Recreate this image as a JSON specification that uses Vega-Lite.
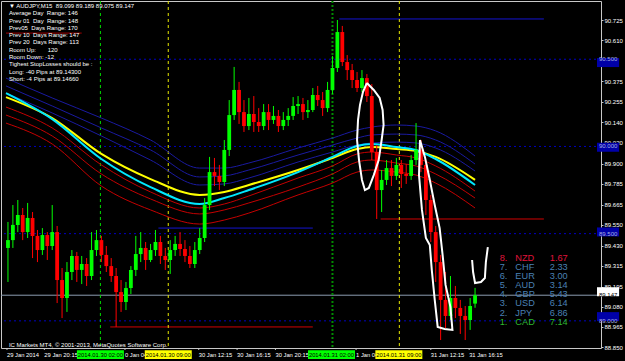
{
  "$schema": "https://vega.github.io/schema/vega-lite/v6.json",
  "width": 600,
  "height": 347,
  "autosize": {"type": "none"},
  "padding": {"left": 1, "top": 1, "right": 24, "bottom": 13},
  "background": "#000000",
  "config": {"view": {"stroke": "#c8c8c8", "strokeWidth": 1}, "font": "Liberation Sans", "text": {"font": "Liberation Sans"}},
  "resolve": {"scale": {"y": "independent"}},
  "layer": [
    {
      "data": {"name": "candles"},
      "mark": {"type": "rule", "strokeWidth": 1, "opacity": 0},
      "encoding": {
        "x": {"field": "k", "type": "quantitative", "scale": {"domain": [-0.4, 119.6], "nice": false, "zero": false}, "axis": null},
        "y": {"field": "l", "type": "quantitative", "scale": {"domain": [88.8443, 90.834], "nice": false, "zero": false},
          "axis": {"orient": "right", "values": [90.725, 90.61, 90.375, 90.255, 90.14, 90.02, 89.9, 89.785, 89.665, 89.55, 89.43, 89.315, 89.195, 89.08, 88.965, 88.85],
            "format": ".3f", "title": null, "grid": false, "domain": false, "ticks": true, "tickSize": 2, "tickColor": "#c8c8c8", "labelColor": "#ffffff", "labelFontSize": 6, "labelFont": "Liberation Sans", "labelPadding": 1, "labelFlush": false, "labelOverlap": false, "labelBaseline": "middle", "labelAlign": "left"}},
        "y2": {"field": "h"}
      }
    },
    {
      "data": {"values": [{"p": 90.5}, {"p": 90.0}, {"p": 89.5}, {"p": 89.0}]},
      "mark": {"type": "rule", "color": "#0000c0", "strokeWidth": 1, "strokeDash": [2, 3]},
      "encoding": {"y": {"field": "p", "type": "quantitative", "scale": {"domain": [88.8443, 90.834], "nice": false, "zero": false}, "axis": null}}
    },
    {
      "data": {"values": [{"p": 89.147}]},
      "mark": {"type": "rule", "color": "#8c9cb0", "strokeWidth": 1},
      "encoding": {"y": {"field": "p", "type": "quantitative", "scale": {"domain": [88.8443, 90.834], "nice": false, "zero": false}, "axis": null}}
    },
    {
      "data": {"values": [
        {"k1": 30.6, "k2": 62, "p": 89.532, "s": "hi"},
        {"k1": 20.8, "k2": 62, "p": 88.965, "s": "lo"},
        {"k1": 67.4, "k2": 109, "p": 90.731, "s": "hi"},
        {"k1": 75.8, "k2": 109, "p": 89.584, "s": "lo"},
        {"k1": -0.4, "k2": 15, "p": 90.65, "s": "mark"}
      ]},
      "mark": {"type": "rule", "strokeWidth": 1},
      "encoding": {
        "x": {"field": "k1", "type": "quantitative", "scale": {"domain": [-0.4, 119.6], "nice": false, "zero": false}, "axis": null},
        "x2": {"field": "k2"},
        "y": {"field": "p", "type": "quantitative", "scale": {"domain": [88.8443, 90.834], "nice": false, "zero": false}, "axis": null},
        "color": {"condition": [{"test": "datum.s == 'hi'", "value": "#1414d0"}, {"test": "datum.s == 'mark'", "value": "#a00000"}], "value": "#d00000"}
      }
    },
    {
      "data": {"values": [
        {"k": 18.8, "kind": "g1"},
        {"k": 32.6, "kind": "y"},
        {"k": 66, "kind": "g2"},
        {"k": 79.6, "kind": "y"}
      ]},
      "mark": {"type": "rule"},
      "encoding": {
        "x": {"field": "k", "type": "quantitative", "scale": {"domain": [-0.4, 119.6], "nice": false, "zero": false}, "axis": null},
        "color": {"condition": [{"test": "datum.kind == 'g1'", "value": "#00dc00"}, {"test": "datum.kind == 'g2'", "value": "#008c00"}], "value": "#e6e600"},
        "strokeWidth": {"condition": {"test": "datum.kind == 'g2'", "value": 2}, "value": 1},
        "strokeDash": {"condition": {"test": "datum.kind == 'g2'", "value": [2, 2]}, "value": [3, 3]}
      }
    },
    {
      "data": {"values": [
        {"k": -0.4, "b1": 90.392, "b2": 90.347, "b3": 90.306, "y": 90.283, "c": 90.306, "r1": 90.226, "r2": 90.180, "r3": 90.134},
        {"k": 9, "b1": 90.278, "b2": 90.232, "b3": 90.192, "y": 90.163, "c": 90.157, "r1": 90.106, "r2": 90.060, "r3": 90.014},
        {"k": 19, "b1": 90.163, "b2": 90.106, "b3": 90.060, "y": 89.957, "c": 89.928, "r1": 89.894, "r2": 89.842, "r3": 89.773},
        {"k": 29, "b1": 90.037, "b2": 89.980, "b3": 89.922, "y": 89.813, "c": 89.767, "r1": 89.739, "r2": 89.699, "r3": 89.636},
        {"k": 39, "b1": 89.876, "b2": 89.825, "b3": 89.779, "y": 89.722, "c": 89.670, "r1": 89.647, "r2": 89.613, "r3": 89.555},
        {"k": 44, "b1": 89.876, "b2": 89.831, "b3": 89.785, "y": 89.739, "c": 89.704, "r1": 89.670, "r2": 89.636, "r3": 89.578},
        {"k": 49, "b1": 89.905, "b2": 89.865, "b3": 89.819, "y": 89.779, "c": 89.750, "r1": 89.716, "r2": 89.676, "r3": 89.618},
        {"k": 59, "b1": 89.991, "b2": 89.951, "b3": 89.911, "y": 89.865, "c": 89.853, "r1": 89.819, "r2": 89.767, "r3": 89.722},
        {"k": 66, "b1": 90.048, "b2": 90.008, "b3": 89.968, "y": 89.934, "c": 89.940, "r1": 89.888, "r2": 89.842, "r3": 89.790},
        {"k": 71, "b1": 90.094, "b2": 90.048, "b3": 90.008, "y": 89.985, "c": 90.003, "r1": 89.957, "r2": 89.911, "r3": 89.853},
        {"k": 74, "b1": 90.111, "b2": 90.066, "b3": 90.020, "y": 89.997, "c": 90.014, "r1": 89.968, "r2": 89.922, "r3": 89.865},
        {"k": 79, "b1": 90.123, "b2": 90.071, "b3": 90.025, "y": 89.985, "c": 89.997, "r1": 89.951, "r2": 89.905, "r3": 89.853},
        {"k": 83, "b1": 90.117, "b2": 90.066, "b3": 90.020, "y": 89.974, "c": 89.980, "r1": 89.934, "r2": 89.888, "r3": 89.836},
        {"k": 87, "b1": 90.089, "b2": 90.037, "b3": 89.991, "y": 89.940, "c": 89.928, "r1": 89.888, "r2": 89.842, "r3": 89.790},
        {"k": 95, "b1": 89.945, "b2": 89.899, "b3": 89.859, "y": 89.808, "c": 89.779, "r1": 89.744, "r2": 89.704, "r3": 89.647}
      ]},
      "transform": [{"fold": ["b1", "b2", "b3", "r1", "r2", "r3", "y", "c"], "as": ["s", "v"]}],
      "mark": {"type": "line", "interpolate": "monotone"},
      "encoding": {
        "x": {"field": "k", "type": "quantitative", "scale": {"domain": [-0.4, 119.6], "nice": false, "zero": false}, "axis": null},
        "y": {"field": "v", "type": "quantitative", "scale": {"domain": [88.8443, 90.834], "nice": false, "zero": false}, "axis": null},
        "color": {"field": "s", "type": "nominal", "scale": {"domain": ["b1", "b2", "b3", "r1", "r2", "r3", "y", "c"], "range": ["#1a1aa0", "#1a1aa0", "#1a1aa0", "#c40000", "#c40000", "#c40000", "#ffff00", "#00e8ff"]}, "legend": null},
        "strokeWidth": {"condition": {"test": "datum.s == 'y' || datum.s == 'c'", "value": 2}, "value": 1}
      }
    },
    {
      "data": {"name": "candles"},
      "mark": {"type": "rule", "strokeWidth": 1},
      "encoding": {
        "x": {"field": "k", "type": "quantitative", "scale": {"domain": [-0.4, 119.6], "nice": false, "zero": false}, "axis": null},
        "y": {"field": "l", "type": "quantitative", "scale": {"domain": [88.8443, 90.834], "nice": false, "zero": false}, "axis": null},
        "y2": {"field": "h"},
        "color": {"condition": {"test": "datum.c >= datum.o", "value": "#00ff00"}, "value": "#ff0000"}
      }
    },
    {
      "data": {"name": "candles"},
      "mark": {"type": "bar", "size": 3.8},
      "encoding": {
        "x": {"field": "k", "type": "quantitative", "scale": {"domain": [-0.4, 119.6], "nice": false, "zero": false}, "axis": null},
        "y": {"field": "o", "type": "quantitative", "scale": {"domain": [88.8443, 90.834], "nice": false, "zero": false}, "axis": null},
        "y2": {"field": "c"},
        "color": {"condition": {"test": "datum.c >= datum.o", "value": "#00ff00"}, "value": "#ff0000"}
      }
    },
    {
      "data": {"values": [
        {"g": 1, "o": 0, "k": 73.0, "p": 90.364}, {"g": 1, "o": 1, "k": 74.4, "p": 90.324}, {"g": 1, "o": 2, "k": 75.6, "p": 90.278},
        {"g": 1, "o": 3, "k": 76.2, "p": 90.209}, {"g": 1, "o": 4, "k": 76.4, "p": 90.123}, {"g": 1, "o": 5, "k": 76.0, "p": 90.037},
        {"g": 1, "o": 6, "k": 75.4, "p": 89.922}, {"g": 1, "o": 7, "k": 74.4, "p": 89.836}, {"g": 1, "o": 8, "k": 73.4, "p": 89.762},
        {"g": 1, "o": 9, "k": 72.6, "p": 89.750}, {"g": 1, "o": 10, "k": 72.0, "p": 89.808}, {"g": 1, "o": 11, "k": 71.4, "p": 89.922},
        {"g": 1, "o": 12, "k": 71.0, "p": 90.037}, {"g": 1, "o": 13, "k": 71.2, "p": 90.152}, {"g": 1, "o": 14, "k": 71.6, "p": 90.238},
        {"g": 1, "o": 15, "k": 72.2, "p": 90.312}, {"g": 1, "o": 16, "k": 73.0, "p": 90.364},
        {"g": 2, "o": 0, "k": 83.8, "p": 90.037}, {"g": 2, "o": 1, "k": 84.8, "p": 89.940}, {"g": 2, "o": 2, "k": 85.8, "p": 89.808},
        {"g": 2, "o": 3, "k": 86.8, "p": 89.664}, {"g": 2, "o": 4, "k": 87.8, "p": 89.532}, {"g": 2, "o": 5, "k": 88.4, "p": 89.378},
        {"g": 2, "o": 6, "k": 89.0, "p": 89.206}, {"g": 2, "o": 7, "k": 90.0, "p": 89.079}, {"g": 2, "o": 8, "k": 90.4, "p": 88.948},
        {"g": 2, "o": 9, "k": 88.8, "p": 88.953}, {"g": 2, "o": 10, "k": 87.4, "p": 88.965}, {"g": 2, "o": 11, "k": 86.8, "p": 89.120},
        {"g": 2, "o": 12, "k": 86.2, "p": 89.292}, {"g": 2, "o": 13, "k": 85.8, "p": 89.435}, {"g": 2, "o": 14, "k": 85.0, "p": 89.475},
        {"g": 2, "o": 15, "k": 84.2, "p": 89.636}, {"g": 2, "o": 16, "k": 83.6, "p": 89.836}, {"g": 2, "o": 17, "k": 83.8, "p": 90.037},
        {"g": 3, "o": 0, "k": 94.4, "p": 89.349}, {"g": 3, "o": 1, "k": 94.6, "p": 89.280}, {"g": 3, "o": 2, "k": 95.0, "p": 89.217},
        {"g": 3, "o": 3, "k": 96.2, "p": 89.223}, {"g": 3, "o": 4, "k": 97.0, "p": 89.246}, {"g": 3, "o": 5, "k": 97.2, "p": 89.337},
        {"g": 3, "o": 6, "k": 97.6, "p": 89.423}
      ]},
      "mark": {"type": "line", "color": "#ffffff", "strokeWidth": 2, "interpolate": "linear"},
      "encoding": {
        "x": {"field": "k", "type": "quantitative", "scale": {"domain": [-0.4, 119.6], "nice": false, "zero": false}, "axis": null},
        "y": {"field": "p", "type": "quantitative", "scale": {"domain": [88.8443, 90.834], "nice": false, "zero": false}, "axis": null},
        "detail": {"field": "g", "type": "nominal"},
        "order": {"field": "o", "type": "quantitative"}
      }
    },
    {
      "data": {"name": "times"},
      "mark": {"type": "rule", "color": "#c8c8c8", "strokeWidth": 1},
      "encoding": {
        "x": {"field": "k", "type": "quantitative", "scale": {"domain": [-0.4, 119.6], "nice": false, "zero": false}, "axis": null},
        "y": {"datum": 88.8443, "type": "quantitative", "scale": {"domain": [88.8443, 90.834], "nice": false, "zero": false}, "axis": null},
        "y2": {"datum": 88.833}
      }
    },
    {
      "data": {"name": "times"},
      "mark": {"type": "text", "align": "left", "baseline": "middle", "fontSize": 5.8, "color": "#ffffff", "font": "Liberation Sans"},
      "encoding": {
        "x": {"field": "k", "type": "quantitative", "scale": {"domain": [-0.4, 119.6], "nice": false, "zero": false}, "axis": null},
        "y": {"datum": 88.806, "type": "quantitative", "scale": {"domain": [88.8443, 90.834], "nice": false, "zero": false}, "axis": null},
        "text": {"field": "label"}
      }
    },
    {
      "data": {"name": "stamps"},
      "mark": {"type": "bar", "size": 47},
      "encoding": {
        "x": {"field": "k", "type": "quantitative", "scale": {"domain": [-0.4, 119.6], "nice": false, "zero": false}, "axis": null},
        "y": {"datum": 88.832, "type": "quantitative", "scale": {"domain": [88.8443, 90.834], "nice": false, "zero": false}, "axis": null},
        "y2": {"datum": 88.781},
        "color": {"condition": {"test": "datum.kind == 'g'", "value": "#00ff00"}, "value": "#ffff00"}
      }
    },
    {
      "data": {"name": "stamps"},
      "mark": {"type": "text", "align": "center", "baseline": "middle", "fontSize": 5.8, "color": "#000000", "font": "Liberation Sans"},
      "encoding": {
        "x": {"field": "k", "type": "quantitative", "scale": {"domain": [-0.4, 119.6], "nice": false, "zero": false}, "axis": null},
        "y": {"datum": 88.806, "type": "quantitative", "scale": {"domain": [88.8443, 90.834], "nice": false, "zero": false}, "axis": null},
        "text": {"field": "label"}
      }
    },
    {
      "data": {"name": "levels"},
      "mark": {"type": "bar", "size": 9},
      "encoding": {
        "y": {"field": "p", "type": "quantitative", "scale": {"domain": [88.8443, 90.834], "nice": false, "zero": false}, "axis": null},
        "x": {"datum": 119.8, "type": "quantitative", "scale": {"domain": [-0.4, 119.6], "nice": false, "zero": false}, "axis": null},
        "x2": {"datum": 124.3},
        "color": {"condition": {"test": "datum.kind == 'w'", "value": "#ffffff"}, "value": "#0000a8"}
      }
    },
    {
      "data": {"name": "levels"},
      "mark": {"type": "text", "align": "left", "baseline": "middle", "fontSize": 6, "font": "Liberation Sans"},
      "encoding": {
        "y": {"field": "p", "type": "quantitative", "scale": {"domain": [88.8443, 90.834], "nice": false, "zero": false}, "axis": null},
        "x": {"datum": 120.2, "type": "quantitative", "scale": {"domain": [-0.4, 119.6], "nice": false, "zero": false}, "axis": null},
        "text": {"field": "label"},
        "color": {"condition": {"test": "datum.kind == 'w'", "value": "#000000"}, "value": "#a8b0e0"}
      }
    },
    {
      "data": {"values": [
        {"row": 0, "t": "▼ AUDJPY,M15\u00a0 89.099 89.189 89.075 89.147"},
        {"row": 1, "t": "Average Day\u00a0 Range: 146"},
        {"row": 2, "t": "Prev 01\u00a0 Day\u00a0 Range: 148"},
        {"row": 3, "t": "Prev05\u00a0 Days Range: 170"},
        {"row": 4, "t": "Prev 10\u00a0 Days Range: 147"},
        {"row": 5, "t": "Prev 20\u00a0 Days Range: 113"},
        {"row": 6, "t": "Room Up:\u00a0\u00a0\u00a0\u00a0\u00a0\u00a0 120"},
        {"row": 7, "t": "Room Down: -12"},
        {"row": 8, "t": "Tighest StopLosses should be :"},
        {"row": 9, "t": "Long: -40 Pips at 89.14300"},
        {"row": 10, "t": "Short: -4 Pips at 89.14660"},
        {"row": 46.44, "t": "IC Markets MT4, © 2001-2013, MetaQuotes Software Corp."}
      ]},
      "mark": {"type": "text", "align": "left", "baseline": "middle", "fontSize": 6, "color": "#ffffff", "font": "Liberation Sans"},
      "encoding": {
        "x": {"datum": 0.2, "type": "quantitative", "scale": {"domain": [-0.4, 119.6], "nice": false, "zero": false}, "axis": null},
        "y": {"field": "row", "type": "quantitative", "scale": {"domain": [-0.685, 46.85], "reverse": true, "nice": false, "zero": false}, "axis": null},
        "text": {"field": "t"}
      }
    },
    {
      "data": {"name": "table"},
      "mark": {"type": "text", "align": "left", "baseline": "middle", "fontSize": 9.2, "font": "Liberation Sans"},
      "encoding": {
        "x": {"datum": 100, "type": "quantitative", "scale": {"domain": [-0.4, 119.6], "nice": false, "zero": false}, "axis": null},
        "y": {"field": "row", "type": "quantitative", "scale": {"domain": [-28.24, 9.89], "reverse": true, "nice": false, "zero": false}, "axis": null},
        "text": {"field": "rank"},
        "color": {"condition": [{"test": "datum.g == 'top'", "value": "#e0143c"}, {"test": "datum.g == 'bot'", "value": "#2eb82e"}], "value": "#4a80b4"}
      }
    },
    {
      "data": {"name": "table"},
      "mark": {"type": "text", "align": "left", "baseline": "middle", "fontSize": 9.2, "font": "Liberation Sans"},
      "encoding": {
        "x": {"datum": 103.2, "type": "quantitative", "scale": {"domain": [-0.4, 119.6], "nice": false, "zero": false}, "axis": null},
        "y": {"field": "row", "type": "quantitative", "scale": {"domain": [-28.24, 9.89], "reverse": true, "nice": false, "zero": false}, "axis": null},
        "text": {"field": "cur"},
        "color": {"condition": [{"test": "datum.g == 'top'", "value": "#e0143c"}, {"test": "datum.g == 'bot'", "value": "#2eb82e"}], "value": "#4a80b4"}
      }
    },
    {
      "data": {"name": "table"},
      "mark": {"type": "text", "align": "left", "baseline": "middle", "fontSize": 9.2, "font": "Liberation Sans"},
      "encoding": {
        "x": {"datum": 110.2, "type": "quantitative", "scale": {"domain": [-0.4, 119.6], "nice": false, "zero": false}, "axis": null},
        "y": {"field": "row", "type": "quantitative", "scale": {"domain": [-28.24, 9.89], "reverse": true, "nice": false, "zero": false}, "axis": null},
        "text": {"field": "val"},
        "color": {"condition": [{"test": "datum.g == 'top'", "value": "#e0143c"}, {"test": "datum.g == 'bot'", "value": "#2eb82e"}], "value": "#4a80b4"}
      }
    }
  ],
  "datasets": {
    "times": [
      {"k": -0.2, "label": "29 Jan 2014"},
      {"k": 7.4, "label": "29 Jan 20:15"},
      {"k": 23.8, "label": "0 Jan 04"},
      {"k": 38.8, "label": "30 Jan 12:15"},
      {"k": 46.6, "label": "30 Jan 16:15"},
      {"k": 54.4, "label": "30 Jan 20:15"},
      {"k": 70.8, "label": "1 Jan 04"},
      {"k": 86, "label": "31 Jan 12:15"},
      {"k": 93.8, "label": "31 Jan 16:15"}
    ],
    "stamps": [
      {"k": 18.8, "label": "2014.01.30 02:00", "kind": "g"},
      {"k": 32.6, "label": "2014.01.30 09:00", "kind": "y"},
      {"k": 65.8, "label": "2014.01.31 02:00", "kind": "g"},
      {"k": 79.5, "label": "2014.01.31 09:00", "kind": "y"}
    ],
    "levels": [
      {"p": 90.5, "label": "90.500", "kind": "b"},
      {"p": 90.0, "label": "90.000", "kind": "b"},
      {"p": 89.5, "label": "89.500", "kind": "b"},
      {"p": 89.147, "label": "89.147", "kind": "w"},
      {"p": 89.0, "label": "89.000", "kind": "b"}
    ],
    "table": [
      {"row": 0, "rank": "8.", "cur": "NZD", "val": "1.67", "g": "top"},
      {"row": 1, "rank": "7.", "cur": "CHF", "val": "2.33", "g": "mid"},
      {"row": 2, "rank": "6.", "cur": "EUR", "val": "3.00", "g": "mid"},
      {"row": 3, "rank": "5.", "cur": "AUD", "val": "3.14", "g": "mid"},
      {"row": 4, "rank": "4.", "cur": "GBP", "val": "5.43", "g": "mid"},
      {"row": 5, "rank": "3.", "cur": "USD", "val": "6.14", "g": "mid"},
      {"row": 6, "rank": "2.", "cur": "JPY", "val": "6.86", "g": "mid"},
      {"row": 7, "rank": "1.", "cur": "CAD", "val": "7.14", "g": "bot"}
    ],
    "candles": [
      {"k":0,"o":89.418,"h":89.567,"l":89.223,"c":89.463},
      {"k":1,"o":89.463,"h":89.664,"l":89.418,"c":89.550},
      {"k":2,"o":89.550,"h":89.693,"l":89.509,"c":89.607},
      {"k":3,"o":89.607,"h":89.647,"l":89.463,"c":89.509},
      {"k":4,"o":89.509,"h":89.676,"l":89.475,"c":89.590},
      {"k":5,"o":89.590,"h":89.624,"l":89.360,"c":89.487},
      {"k":6,"o":89.487,"h":89.521,"l":89.337,"c":89.406},
      {"k":7,"o":89.406,"h":89.532,"l":89.378,"c":89.492},
      {"k":8,"o":89.492,"h":89.509,"l":89.349,"c":89.429},
      {"k":9,"o":89.429,"h":89.664,"l":89.406,"c":89.509},
      {"k":10,"o":89.509,"h":89.544,"l":89.102,"c":89.234},
      {"k":11,"o":89.234,"h":89.303,"l":89.016,"c":89.131},
      {"k":12,"o":89.131,"h":89.337,"l":89.051,"c":89.280},
      {"k":13,"o":89.280,"h":89.406,"l":89.234,"c":89.372},
      {"k":14,"o":89.372,"h":89.395,"l":89.223,"c":89.292},
      {"k":15,"o":89.292,"h":89.372,"l":89.211,"c":89.326},
      {"k":16,"o":89.326,"h":89.360,"l":89.200,"c":89.257},
      {"k":17,"o":89.257,"h":89.509,"l":89.234,"c":89.406},
      {"k":18,"o":89.406,"h":89.521,"l":89.372,"c":89.463},
      {"k":19,"o":89.463,"h":89.487,"l":89.337,"c":89.378},
      {"k":20,"o":89.378,"h":89.429,"l":89.280,"c":89.314},
      {"k":21,"o":89.314,"h":89.360,"l":89.223,"c":89.257},
      {"k":22,"o":89.257,"h":89.303,"l":88.965,"c":89.165},
      {"k":23,"o":89.165,"h":89.234,"l":89.051,"c":89.108},
      {"k":24,"o":89.108,"h":89.223,"l":89.062,"c":89.188},
      {"k":25,"o":89.188,"h":89.314,"l":89.154,"c":89.292},
      {"k":26,"o":89.292,"h":89.487,"l":89.257,"c":89.383},
      {"k":27,"o":89.383,"h":89.509,"l":89.337,"c":89.418},
      {"k":28,"o":89.418,"h":89.452,"l":89.292,"c":89.349},
      {"k":29,"o":89.349,"h":89.441,"l":89.337,"c":89.406},
      {"k":30,"o":89.406,"h":89.521,"l":89.372,"c":89.452},
      {"k":31,"o":89.452,"h":89.487,"l":89.326,"c":89.372},
      {"k":32,"o":89.372,"h":89.418,"l":89.292,"c":89.349},
      {"k":33,"o":89.349,"h":89.463,"l":89.269,"c":89.406},
      {"k":34,"o":89.406,"h":89.487,"l":89.372,"c":89.441},
      {"k":35,"o":89.441,"h":89.509,"l":89.372,"c":89.412},
      {"k":36,"o":89.412,"h":89.463,"l":89.337,"c":89.372},
      {"k":37,"o":89.372,"h":89.429,"l":89.303,"c":89.326},
      {"k":38,"o":89.326,"h":89.452,"l":89.303,"c":89.406},
      {"k":39,"o":89.406,"h":89.532,"l":89.383,"c":89.475},
      {"k":40,"o":89.475,"h":89.704,"l":89.452,"c":89.664},
      {"k":41,"o":89.664,"h":89.940,"l":89.636,"c":89.853},
      {"k":42,"o":89.853,"h":89.934,"l":89.773,"c":89.831},
      {"k":43,"o":89.831,"h":89.894,"l":89.750,"c":89.796},
      {"k":44,"o":89.796,"h":90.037,"l":89.773,"c":89.980},
      {"k":45,"o":89.980,"h":90.266,"l":89.945,"c":90.180},
      {"k":46,"o":90.180,"h":90.456,"l":90.152,"c":90.324},
      {"k":47,"o":90.324,"h":90.370,"l":90.129,"c":90.197},
      {"k":48,"o":90.197,"h":90.266,"l":90.083,"c":90.117},
      {"k":49,"o":90.117,"h":90.278,"l":90.094,"c":90.186},
      {"k":50,"o":90.186,"h":90.289,"l":90.083,"c":90.140},
      {"k":51,"o":90.140,"h":90.220,"l":90.083,"c":90.117},
      {"k":52,"o":90.117,"h":90.243,"l":90.094,"c":90.197},
      {"k":53,"o":90.197,"h":90.243,"l":90.094,"c":90.152},
      {"k":54,"o":90.152,"h":90.232,"l":90.129,"c":90.175},
      {"k":55,"o":90.175,"h":90.209,"l":90.083,"c":90.117},
      {"k":56,"o":90.117,"h":90.197,"l":90.094,"c":90.152},
      {"k":57,"o":90.152,"h":90.220,"l":90.117,"c":90.175},
      {"k":58,"o":90.175,"h":90.283,"l":90.152,"c":90.232},
      {"k":59,"o":90.232,"h":90.289,"l":90.186,"c":90.243},
      {"k":60,"o":90.243,"h":90.278,"l":90.152,"c":90.197},
      {"k":61,"o":90.197,"h":90.266,"l":90.163,"c":90.209},
      {"k":62,"o":90.209,"h":90.335,"l":90.197,"c":90.295},
      {"k":63,"o":90.295,"h":90.347,"l":90.232,"c":90.266},
      {"k":64,"o":90.266,"h":90.312,"l":90.175,"c":90.220},
      {"k":65,"o":90.220,"h":90.370,"l":90.197,"c":90.324},
      {"k":66,"o":90.324,"h":90.519,"l":90.301,"c":90.450},
      {"k":67,"o":90.450,"h":90.725,"l":90.427,"c":90.656},
      {"k":68,"o":90.656,"h":90.691,"l":90.461,"c":90.484},
      {"k":69,"o":90.484,"h":90.524,"l":90.381,"c":90.438},
      {"k":70,"o":90.438,"h":90.473,"l":90.335,"c":90.381},
      {"k":71,"o":90.381,"h":90.427,"l":90.312,"c":90.335},
      {"k":72,"o":90.335,"h":90.438,"l":90.312,"c":90.392},
      {"k":73,"o":90.392,"h":90.415,"l":90.255,"c":90.289},
      {"k":74,"o":90.289,"h":90.358,"l":89.922,"c":89.968},
      {"k":75,"o":89.968,"h":90.008,"l":89.584,"c":89.750},
      {"k":76,"o":89.750,"h":89.865,"l":89.624,"c":89.808},
      {"k":77,"o":89.808,"h":89.922,"l":89.779,"c":89.876},
      {"k":78,"o":89.876,"h":89.922,"l":89.773,"c":89.831},
      {"k":79,"o":89.831,"h":89.934,"l":89.808,"c":89.894},
      {"k":80,"o":89.894,"h":89.922,"l":89.762,"c":89.842},
      {"k":81,"o":89.842,"h":89.899,"l":89.785,"c":89.831},
      {"k":82,"o":89.831,"h":89.951,"l":89.808,"c":89.922},
      {"k":83,"o":89.922,"h":90.134,"l":89.894,"c":89.980},
      {"k":84,"o":89.980,"h":90.037,"l":89.853,"c":89.894},
      {"k":85,"o":89.894,"h":89.922,"l":89.607,"c":89.693},
      {"k":86,"o":89.693,"h":89.722,"l":89.452,"c":89.509},
      {"k":87,"o":89.509,"h":89.544,"l":89.223,"c":89.337},
      {"k":88,"o":89.337,"h":89.378,"l":88.890,"c":89.120},
      {"k":89,"o":89.120,"h":89.280,"l":88.959,"c":89.028},
      {"k":90,"o":89.028,"h":89.257,"l":89.005,"c":89.131},
      {"k":91,"o":89.131,"h":89.200,"l":89.016,"c":89.074},
      {"k":92,"o":89.074,"h":89.120,"l":88.925,"c":89.028},
      {"k":93,"o":89.028,"h":89.085,"l":88.890,"c":89.005},
      {"k":94,"o":89.005,"h":89.131,"l":88.948,"c":89.085},
      {"k":95,"o":89.099,"h":89.189,"l":89.075,"c":89.147}
    ]
  }
}
